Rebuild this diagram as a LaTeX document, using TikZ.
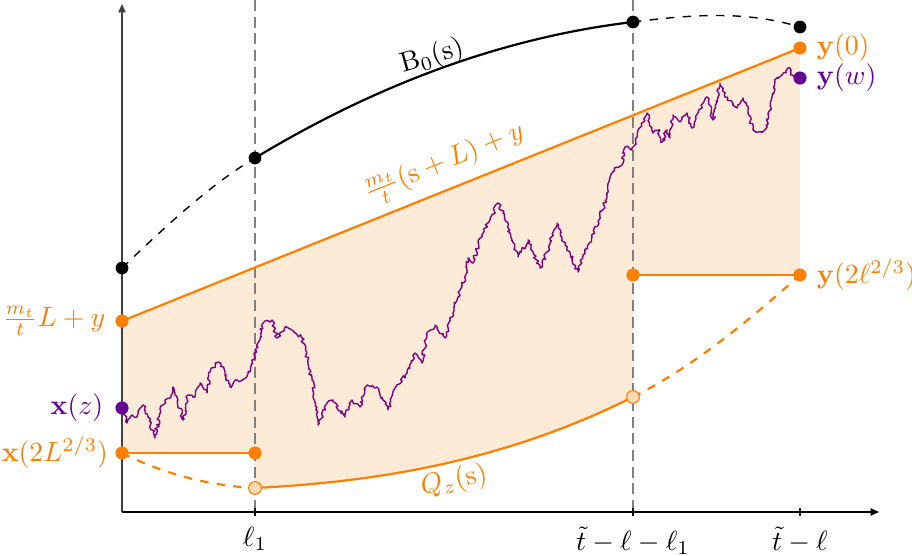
\documentclass[tikz,border=0pt]{standalone}
\usetikzlibrary{arrows.meta,decorations.pathmorphing,positioning}
\definecolor{wpurple}{RGB}{128,0,128}
\definecolor{dpurple}{RGB}{100,0,150}
\definecolor{fillor}{RGB}{253,235,216}
\definecolor{lightor}{RGB}{255,218,180}
\begin{document}
\begin{tikzpicture}[x=0.36pt,y=-0.36pt,
  bdot/.style={circle,inner sep=0pt,minimum size=4.6pt,fill=black},
  odot/.style={circle,inner sep=0pt,minimum size=4.6pt,fill=orange},
  ldot/.style={circle,inner sep=0pt,minimum size=4.6pt,fill=lightor,draw=orange,line width=0.4pt},
  pdot/.style={circle,inner sep=0pt,minimum size=4.6pt,fill=dpurple},
  guide/.style={draw=black!50,line width=1pt,dash pattern=on 4pt off 2pt},
  bsolid/.style={draw=black,line width=0.8pt},
  bdash/.style={draw=black,line width=0.5pt,dash pattern=on 3pt off 3pt},
  osolid/.style={draw=orange,line width=0.8pt},
  odash/.style={draw=orange,line width=0.8pt,dash pattern=on 3pt off 3pt},
  walk/.style={draw=wpurple,line width=0.5pt,line join=round},
  olabel/.style={text=orange},
  plabel/.style={text=dpurple},
  axis/.style={line width=0.5pt,-{Triangle[length=3pt,width=2.6pt]}}
]
\useasboundingbox (0,0) rectangle (912,556);

% named points
\coordinate (o) at (122,512);
\coordinate (ytop) at (122,4);
\coordinate (xend) at (879,512);
\coordinate (g1top) at (255,0);
\coordinate (g1bot) at (255,512);
\coordinate (g2top) at (633,0);
\coordinate (g2bot) at (633,512);
\coordinate (qa) at (122,453);
\coordinate (qb) at (255,488);
\coordinate (qc) at (633,397);
\coordinate (qd) at (800,275);

% shaded region
\fill[fillor] (122,321) -- (800,48) -- (qd) -- (633,275) -- (qc)
  .. controls (507,460) and (381,481.7) .. (qb)
  -- (255,453) -- (qa) -- cycle;

% guides
\draw[guide] (g1top) -- (g1bot);
\draw[guide] (g2top) -- (g2bot);

% axes
\draw[axis,draw=black!75] (o) -- (ytop);
\draw[axis,draw=black] (o) -- (xend);
\foreach \tx in {255,633,800} \draw[line width=0.4pt] (\tx,508) -- (\tx,516);
\node[anchor=north] (l1) at (255,517) {$\ell_1$};
\node[anchor=north] (l2) at (633,517) {$\tilde t-\ell-\ell_1$};
\node[anchor=north] (l3) at (800,517) {$\tilde t-\ell$};

% B0 curve
\node[bdot] (b1) at (122,268) {};
\node[bdot] (b2) at (255,158) {};
\node[bdot] (b3) at (633,22) {};
\node[bdot] (b4) at (800,27) {};
\draw[bdash] (b1.center) .. controls (166,226) and (211,184) .. (b2.center);
\draw[bsolid] (b2.center) .. controls (381,82) and (507,37) .. (b3.center);
\draw[bdash] (b3.center) .. controls (689,15) and (744,10) .. (b4.center);
\node[rotate=16] (blab) at (432,57) {$\mathrm{B}_0(\mathrm{s})$};

% random walk
\pgfmathsetseed{7}
\node[pdot] (pz) at (122,408) {};
\node[pdot] (pw) at (800,78) {};
\draw[walk,decorate,decoration={random steps,segment length=0.8pt,amplitude=0.65pt}]
 (pz.center) -- (127,423) -- (132,415) -- (137,417) -- (143,405) -- (148,417) -- (155,438) -- (160,413) -- (165,400) -- (170,398) -- (173,387) -- (178,400) -- (183,420) -- (188,395) -- (195,397) -- (200,383) -- (207,393) -- (210,372) -- (218,362) -- (225,372) -- (230,387) -- (237,380) -- (243,380) -- (250,372) -- (255,353) -- (258,347) -- (263,323) -- (272,320) -- (277,338) -- (285,327) -- (292,330) -- (302,338) -- (307,357) -- (312,380) -- (318,425) -- (327,403) -- (333,400) -- (345,417) -- (352,400) -- (360,407) -- (367,385) -- (377,387) -- (388,410) -- (395,388) -- (407,373) -- (415,353) -- (422,363) -- (427,335) -- (435,325) -- (445,338) -- (453,313) -- (460,290) -- (465,278) -- (468,258) -- (473,263) -- (480,238) -- (490,220) -- (498,203) -- (503,213) -- (510,233) -- (518,257) -- (528,240) -- (533,252) -- (540,268) -- (547,252) -- (557,223) -- (562,240) -- (570,252) -- (578,272) -- (583,255) -- (592,237) -- (600,217) -- (607,197) -- (610,177) -- (615,168) -- (622,165) -- (625,147) -- (632,150) -- (637,137) -- (642,123) -- (647,113) -- (653,133) -- (658,130) -- (662,142) -- (667,130) -- (670,138) -- (673,115) -- (680,122) -- (687,113) -- (692,128) -- (698,113) -- (707,97) -- (713,120) -- (720,83) -- (725,97) -- (732,102) -- (737,108) -- (743,98) -- (748,110) -- (753,130) -- (758,132) -- (765,130) -- (770,110) -- (775,82) -- (782,75) -- (788,68) -- (792,75) -- (pw.center);
\node[pdot] at (pz) {};
\node[pdot] at (pw) {};

% upper orange line
\node[odot] (u1) at (122,321) {};
\node[odot] (u2) at (800,48) {};
\draw[osolid] (u1.center) -- node[sloped,above=0pt,pos=0.49,olabel] (ulab) {$\frac{m_t}{t}(\mathrm{s}+L)+y$} (u2.center);

% lower curve Q_z
\draw[odash] (qa) .. controls (166,475) and (211,485.8) .. (qb);
\draw[osolid] (qb) .. controls (381,481.7) and (507,460) .. (qc);
\draw[odash] (qc) .. controls (689,369) and (744,325) .. (qd);
\node[olabel,rotate=12] (qlab) at (454,481) {$Q_z(\mathrm{s})$};

% horizontal orange segments
\node[odot] (h1) at (qa) {};
\node[odot] (h2) at (255,453) {};
\node[odot] (h3) at (633,275) {};
\node[odot] (h4) at (qd) {};
\draw[osolid] (h1.center) -- (h2.center);
\draw[osolid] (h3.center) -- (h4.center);
\node[odot] at (h1) {};
\node[odot] at (h2) {};
\node[odot] at (h3) {};
\node[odot] at (h4) {};
\node[odot] at (u1) {};
\node[odot] at (u2) {};
\node[ldot] (c1) at (qb) {};
\node[ldot] (c2) at (qc) {};

% labels
\node[olabel,left=0pt of u1] (lu1) {$\frac{m_t}{t}L+y$};
\node[plabel,left=0.7pt of pz] (lpz) {$\mathbf{x}(z)$};
\node[olabel,left=-1pt of h1] (lh1) {$\mathbf{x}(2L^{2/3})$};
\node[olabel,right=0pt of u2] (lu2) {$\mathbf{y}(0)$};
\node[plabel,right=0pt of pw] (lpw) {$\mathbf{y}(w)$};
\node[olabel,right=0pt of h4] (lh4) {$\mathbf{y}(2\ell^{2/3})$};
\end{tikzpicture}
\end{document}
